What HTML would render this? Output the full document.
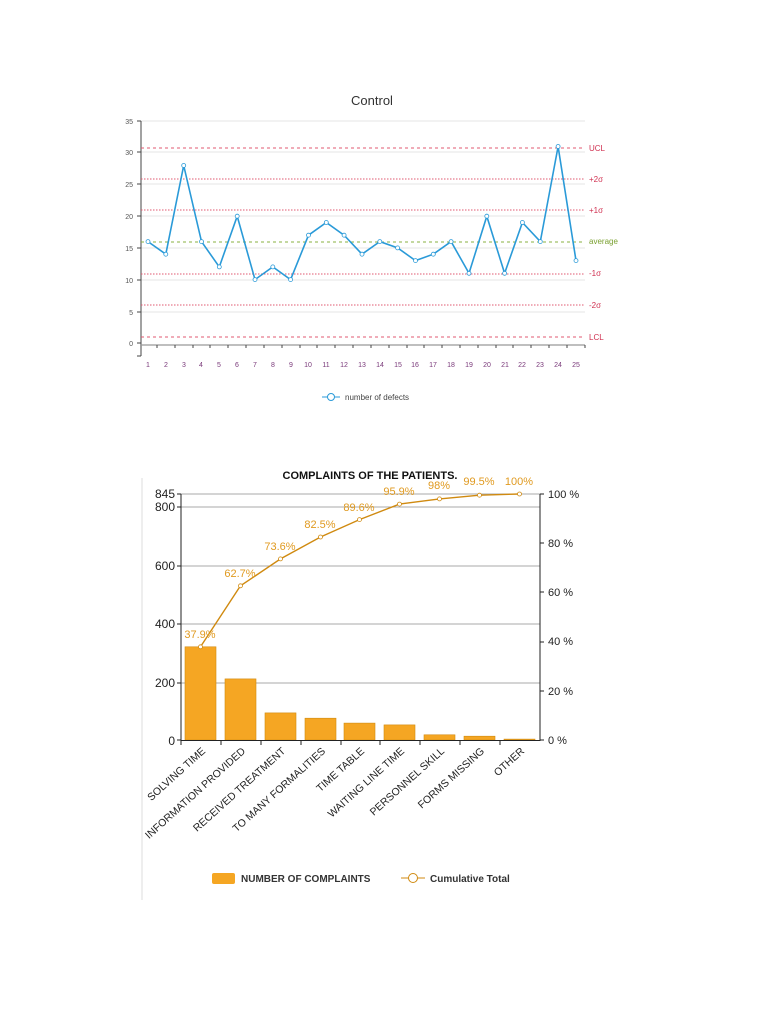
<!DOCTYPE html>
<html><head><meta charset="utf-8"><style>
html,body{margin:0;padding:0;background:#fff;width:768px;height:1024px;overflow:hidden}
svg{display:block;font-family:"Liberation Sans",sans-serif}
</style></head><body>
<svg width="768" height="1024" viewBox="0 0 768 1024">
<!-- Control chart -->
<text x="372" y="105" font-size="13" text-anchor="middle" fill="#333">Control</text>
<g stroke="#e6e6e6" stroke-width="1">
<line x1="141" y1="121" x2="585" y2="121"/><line x1="141" y1="152" x2="585" y2="152"/>
<line x1="141" y1="184" x2="585" y2="184"/><line x1="141" y1="216" x2="585" y2="216"/>
<line x1="141" y1="248" x2="585" y2="248"/><line x1="141" y1="280" x2="585" y2="280"/>
<line x1="141" y1="312" x2="585" y2="312"/>
</g>
<g font-size="7" fill="#555" text-anchor="end">
<text x="133" y="124">35</text><text x="133" y="155">30</text><text x="133" y="187">25</text>
<text x="133" y="219">20</text><text x="133" y="251">15</text><text x="133" y="283">10</text>
<text x="133" y="315">5</text><text x="133" y="346">0</text>
</g>
<g stroke="#444" stroke-width="1">
<line x1="141" y1="121" x2="141" y2="356"/>
<line x1="137" y1="121" x2="141" y2="121"/><line x1="137" y1="152" x2="141" y2="152"/>
<line x1="137" y1="184" x2="141" y2="184"/><line x1="137" y1="216" x2="141" y2="216"/>
<line x1="137" y1="248" x2="141" y2="248"/><line x1="137" y1="280" x2="141" y2="280"/>
<line x1="137" y1="312" x2="141" y2="312"/><line x1="137" y1="343" x2="141" y2="343"/>
<line x1="137" y1="356" x2="141" y2="356"/>
</g>
<line x1="141" y1="345" x2="585" y2="345" stroke="#999" stroke-width="1.2"/>
<g stroke="#444" stroke-width="1">
<line x1="157" y1="345" x2="157" y2="348"/><line x1="175" y1="345" x2="175" y2="348"/><line x1="193" y1="345" x2="193" y2="348"/><line x1="210" y1="345" x2="210" y2="348"/><line x1="228" y1="345" x2="228" y2="348"/><line x1="246" y1="345" x2="246" y2="348"/><line x1="264" y1="345" x2="264" y2="348"/><line x1="282" y1="345" x2="282" y2="348"/><line x1="300" y1="345" x2="300" y2="348"/><line x1="317" y1="345" x2="317" y2="348"/><line x1="335" y1="345" x2="335" y2="348"/><line x1="353" y1="345" x2="353" y2="348"/><line x1="371" y1="345" x2="371" y2="348"/><line x1="389" y1="345" x2="389" y2="348"/><line x1="407" y1="345" x2="407" y2="348"/><line x1="424" y1="345" x2="424" y2="348"/><line x1="442" y1="345" x2="442" y2="348"/><line x1="460" y1="345" x2="460" y2="348"/><line x1="478" y1="345" x2="478" y2="348"/><line x1="496" y1="345" x2="496" y2="348"/><line x1="513" y1="345" x2="513" y2="348"/><line x1="531" y1="345" x2="531" y2="348"/><line x1="549" y1="345" x2="549" y2="348"/><line x1="567" y1="345" x2="567" y2="348"/><line x1="585" y1="345" x2="585" y2="348"/>
</g>
<g font-size="7" fill="#7a3a7a" text-anchor="middle">
<text x="148" y="367">1</text><text x="166" y="367">2</text><text x="184" y="367">3</text><text x="201" y="367">4</text><text x="219" y="367">5</text><text x="237" y="367">6</text><text x="255" y="367">7</text><text x="273" y="367">8</text><text x="291" y="367">9</text><text x="308" y="367">10</text><text x="326" y="367">11</text><text x="344" y="367">12</text><text x="362" y="367">13</text><text x="380" y="367">14</text><text x="398" y="367">15</text><text x="415" y="367">16</text><text x="433" y="367">17</text><text x="451" y="367">18</text><text x="469" y="367">19</text><text x="487" y="367">20</text><text x="505" y="367">21</text><text x="522" y="367">22</text><text x="540" y="367">23</text><text x="558" y="367">24</text><text x="576" y="367">25</text>
</g>
<g stroke="#e05870" stroke-width="1">
<line x1="141" y1="148" x2="585" y2="148" stroke-dasharray="3,3"/>
<line x1="141" y1="179" x2="585" y2="179" stroke-dasharray="1.5,1.5"/>
<line x1="141" y1="210" x2="585" y2="210" stroke-dasharray="1.5,1.5"/>
<line x1="141" y1="274" x2="585" y2="274" stroke-dasharray="1.5,1.5"/>
<line x1="141" y1="305" x2="585" y2="305" stroke-dasharray="1.5,1.5"/>
<line x1="141" y1="337" x2="585" y2="337" stroke-dasharray="3,3"/>
</g>
<line x1="141" y1="242" x2="585" y2="242" stroke="#8ab040" stroke-dasharray="3,3"/>
<g font-size="8" fill="#d03050">
<text x="589" y="151">UCL</text><text x="589" y="182">+2σ</text><text x="589" y="213">+1σ</text>
<text x="589" y="276">-1σ</text><text x="589" y="308">-2σ</text><text x="589" y="340">LCL</text>
</g>
<text x="589" y="244" font-size="8" fill="#7aa030">average</text>
<polyline fill="none" stroke="#2a9ad8" stroke-width="1.6" points="148,241.6 165.8,254.2 183.7,165.5 201.5,241.6 219.3,266.9 237.2,216.2 255,279.6 272.8,266.9 290.6,279.6 308.5,235.2 326.3,222.5 344.1,235.2 362,254.2 379.8,241.6 397.6,247.9 415.5,260.6 433.3,254.2 451.1,241.6 469,273.3 486.8,216.2 504.6,273.3 522.4,222.5 540.3,241.6 558.1,146.5 576,260.6"/>
<g fill="#fff" stroke="#2a9ad8" stroke-width="0.8">
<circle cx="148" cy="241.6" r="2"/><circle cx="165.8" cy="254.2" r="2"/><circle cx="183.7" cy="165.5" r="2"/><circle cx="201.5" cy="241.6" r="2"/><circle cx="219.3" cy="266.9" r="2"/><circle cx="237.2" cy="216.2" r="2"/><circle cx="255" cy="279.6" r="2"/><circle cx="272.8" cy="266.9" r="2"/><circle cx="290.6" cy="279.6" r="2"/><circle cx="308.5" cy="235.2" r="2"/><circle cx="326.3" cy="222.5" r="2"/><circle cx="344.1" cy="235.2" r="2"/><circle cx="362" cy="254.2" r="2"/><circle cx="379.8" cy="241.6" r="2"/><circle cx="397.6" cy="247.9" r="2"/><circle cx="415.5" cy="260.6" r="2"/><circle cx="433.3" cy="254.2" r="2"/><circle cx="451.1" cy="241.6" r="2"/><circle cx="469" cy="273.3" r="2"/><circle cx="486.8" cy="216.2" r="2"/><circle cx="504.6" cy="273.3" r="2"/><circle cx="522.4" cy="222.5" r="2"/><circle cx="540.3" cy="241.6" r="2"/><circle cx="558.1" cy="146.5" r="2"/><circle cx="576" cy="260.6" r="2"/>
</g>
<line x1="322" y1="397" x2="340" y2="397" stroke="#2a9ad8" stroke-width="1"/>
<circle cx="331" cy="397" r="3.5" fill="#fff" stroke="#2a9ad8"/>
<text x="345" y="400" font-size="8" fill="#444">number of defects</text>

<!-- Pareto -->
<line x1="142" y1="478" x2="142" y2="900" stroke="#ddd"/>
<text x="370" y="479" font-size="11" font-weight="bold" text-anchor="middle" fill="#111">COMPLAINTS OF THE PATIENTS.</text>
<g stroke="#aaa" stroke-width="1">
<line x1="181" y1="494" x2="540" y2="494"/><line x1="181" y1="507" x2="540" y2="507"/>
<line x1="181" y1="566" x2="540" y2="566"/><line x1="181" y1="624" x2="540" y2="624"/>
<line x1="181" y1="683" x2="540" y2="683"/>
</g>
<g font-size="12" fill="#222" text-anchor="end">
<text x="175" y="498">845</text><text x="175" y="511">800</text><text x="175" y="570">600</text>
<text x="175" y="628">400</text><text x="175" y="687">200</text><text x="175" y="745">0</text>
</g>
<g font-size="11" fill="#222">
<text x="548" y="498">100 %</text><text x="548" y="547">80 %</text><text x="548" y="596">60 %</text>
<text x="548" y="645">40 %</text><text x="548" y="695">20 %</text><text x="548" y="744">0 %</text>
</g>
<g fill="#f5a623" stroke="#d08a10" stroke-width="0.6">
<rect x="185" y="646.8" width="31" height="93.2"/><rect x="225" y="678.9" width="31" height="61.1"/>
<rect x="265" y="712.9" width="31" height="27.1"/><rect x="305" y="718.2" width="31" height="21.8"/>
<rect x="344" y="723.1" width="31" height="16.9"/><rect x="384" y="724.9" width="31" height="15.1"/>
<rect x="424" y="734.8" width="31" height="5.2"/><rect x="464" y="736.2" width="31" height="3.8"/>
<rect x="504" y="739.1" width="31" height="0.9"/>
</g>
<line x1="181" y1="494" x2="181" y2="741" stroke="#222"/>
<line x1="540" y1="494" x2="540" y2="741" stroke="#222"/>
<line x1="181" y1="740.5" x2="540" y2="740.5" stroke="#222"/>
<g stroke="#222">
<line x1="177" y1="494" x2="181" y2="494"/><line x1="177" y1="507" x2="181" y2="507"/><line x1="177" y1="566" x2="181" y2="566"/><line x1="177" y1="624" x2="181" y2="624"/><line x1="177" y1="683" x2="181" y2="683"/><line x1="177" y1="740" x2="181" y2="740"/>
<line x1="540" y1="494" x2="544" y2="494"/><line x1="540" y1="543" x2="544" y2="543"/><line x1="540" y1="592" x2="544" y2="592"/><line x1="540" y1="642" x2="544" y2="642"/><line x1="540" y1="691" x2="544" y2="691"/><line x1="540" y1="740" x2="544" y2="740"/>
<line x1="181" y1="740" x2="181" y2="745"/><line x1="221" y1="740" x2="221" y2="745"/><line x1="261" y1="740" x2="261" y2="745"/><line x1="301" y1="740" x2="301" y2="745"/><line x1="341" y1="740" x2="341" y2="745"/><line x1="380" y1="740" x2="380" y2="745"/><line x1="420" y1="740" x2="420" y2="745"/><line x1="460" y1="740" x2="460" y2="745"/><line x1="500" y1="740" x2="500" y2="745"/>
</g>
<g font-size="10.5" fill="#222" text-anchor="end">
<text transform="translate(206,752) rotate(-42)">SOLVING TIME</text>
<text transform="translate(246,752) rotate(-42)">INFORMATION PROVIDED</text>
<text transform="translate(286,752) rotate(-42)">RECEIVED TREATMENT</text>
<text transform="translate(326,752) rotate(-42)">TO MANY FORMALITIES</text>
<text transform="translate(365,752) rotate(-42)">TIME TABLE</text>
<text transform="translate(405,752) rotate(-42)">WAITING LINE TIME</text>
<text transform="translate(445,752) rotate(-42)">PERSONNEL SKILL</text>
<text transform="translate(485,752) rotate(-42)">FORMS MISSING</text>
<text transform="translate(525,752) rotate(-42)">OTHER</text>
</g>
<polyline fill="none" stroke="#d08a10" stroke-width="1.4" points="200.5,646.8 240.5,585.8 280.5,558.9 320.5,537 359.5,519.6 399.5,504.1 439.5,498.9 479.5,495.2 519.5,494"/>
<g fill="#fff" stroke="#d08a10" stroke-width="0.8">
<circle cx="200.5" cy="646.8" r="2"/><circle cx="240.5" cy="585.8" r="2"/><circle cx="280.5" cy="558.9" r="2"/><circle cx="320.5" cy="537" r="2"/><circle cx="359.5" cy="519.6" r="2"/><circle cx="399.5" cy="504.1" r="2"/><circle cx="439.5" cy="498.9" r="2"/><circle cx="479.5" cy="495.2" r="2"/><circle cx="519.5" cy="494" r="2"/>
</g>
<g font-size="11" fill="#e09a20" text-anchor="middle">
<text x="200" y="638">37.9%</text><text x="240" y="577">62.7%</text><text x="280" y="550">73.6%</text>
<text x="320" y="528">82.5%</text><text x="359" y="511">89.6%</text><text x="399" y="495">95.9%</text>
<text x="439" y="489">98%</text><text x="479" y="485">99.5%</text><text x="519" y="485">100%</text>
</g>
<rect x="212" y="873" width="23" height="11" rx="2" fill="#f5a623"/>
<text x="241" y="882" font-size="10" font-weight="bold" fill="#333">NUMBER OF COMPLAINTS</text>
<line x1="401" y1="878" x2="425" y2="878" stroke="#d08a10"/>
<circle cx="413" cy="878" r="4.5" fill="#fff" stroke="#d08a10"/>
<text x="430" y="882" font-size="10" font-weight="bold" fill="#333">Cumulative Total</text>
</svg>
</body></html>
